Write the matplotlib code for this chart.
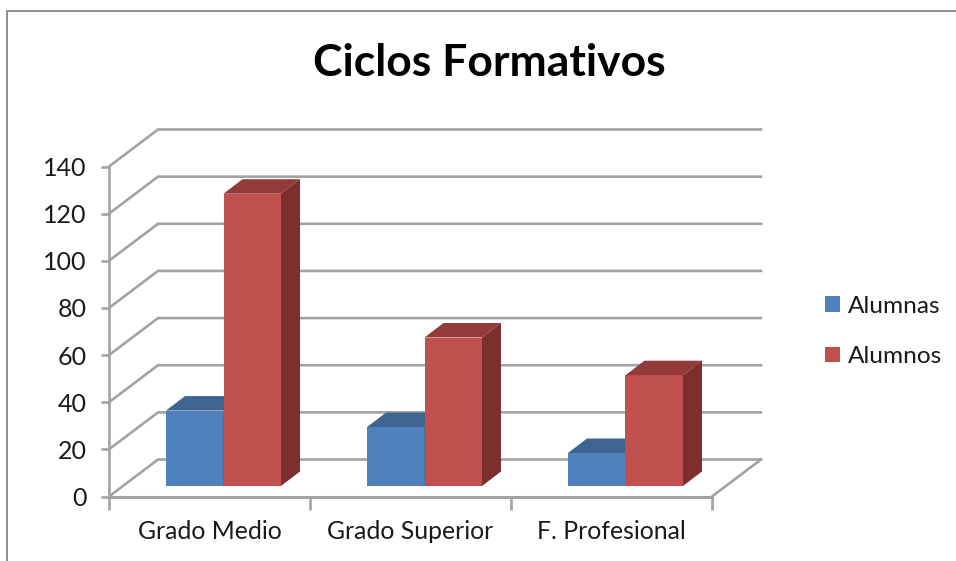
import matplotlib
matplotlib.use("Agg")
import matplotlib.pyplot as plt
from matplotlib.patches import Patch

plt.rcParams["font.family"] = ["Lato", "DejaVu Sans"]

categories = ["Grado Medio", "Grado Superior", "F. Profesional"]
alumnas = [32, 25, 14]
alumnos = [124, 63, 47]
y_ticks = [0, 20, 40, 60, 80, 100, 120, 140]

W, H = 956, 561
GRID = "#A3A3A3"
BLUE, BLUE_TOP = "#4F81BD", "#3E6590"
RED, RED_TOP, RED_SIDE = "#C0504D", "#933B39", "#7C2F2D"

fig = plt.figure(figsize=(W / 100, H / 100), dpi=100, facecolor="white")

# outer frame of the pasted chart (only top and left show)
fig.add_artist(plt.Line2D([7 / W, 7 / W, 1], [0, 1 - 10.5 / H, 1 - 10.5 / H],
                          color="#8C8C8C", lw=1.4))

# axes box = front plane of the 3D chart, in pixels
x0, x1, y0, y1 = 109, 712, 496.5, 166.5
ax = fig.add_axes([x0 / W, 1 - y0 / H, (x1 - x0) / W, (y0 - y1) / H])
ax.set_xlim(0, 3)
ax.set_ylim(0, 140)
ax.patch.set_alpha(0)
for s in ax.spines.values():
    s.set_visible(False)

# depth of the box, in data units
px_x = 3 / (x1 - x0)
px_y = 140 / (y0 - y1)
dx = 49 * px_x
dy = 37 * px_y

# walls
for t in y_ticks:
    ax.plot([0, dx, 3 + dx], [t, t + dy, t + dy], color=GRID, lw=1.9, clip_on=False,
            solid_joinstyle="miter", zorder=1)
ax.plot([3, 3 + dx], [0, dy], color=GRID, lw=1.9, clip_on=False, zorder=1)
ax.plot([0, 3], [0, 0], color=GRID, lw=2.2, clip_on=False, zorder=1)
ax.plot([0, 0], [0, 140], color=GRID, lw=1.9, clip_on=False, zorder=1)

# bars sit part way into the depth
bar_w = 57.5 * px_x
left = 43.5 * px_x
shift_x = 13.5 * px_x
shift_y = 10.5 * px_y
depth_x = 19 * px_x
depth_y = 14.5 * px_y


def draw_bar(x, v, front, top, side, z):
    ax.bar(x, v, bar_w, bottom=shift_y, align="edge", color=front, zorder=z, clip_on=False)
    b, t = shift_y, shift_y + v
    ax.fill([x, x + depth_x, x + bar_w + depth_x, x + bar_w],
            [t, t + depth_y, t + depth_y, t], color=top, lw=0, zorder=z, clip_on=False)
    ax.fill([x + bar_w, x + bar_w + depth_x, x + bar_w + depth_x, x + bar_w],
            [b, b + depth_y, t + depth_y, t], color=side, lw=0, zorder=z, clip_on=False)


for i in range(len(categories)):
    xa = i + shift_x + left
    draw_bar(xa, alumnas[i], BLUE, BLUE_TOP, BLUE_TOP, 2 + i)
    draw_bar(xa + bar_w, alumnos[i], RED, RED_TOP, RED_SIDE, 2.5 + i)

ax.set_yticks(y_ticks)
ax.set_xticks([0, 1, 2, 3])
ax.set_xticklabels([])
ax.tick_params(axis="both", color=GRID, width=1.9, length=6, labelsize=18, labelcolor="#1A1A1A", pad=10)
ax.tick_params(axis="x", length=9)
for i, c in enumerate(categories):
    ax.text(i + 0.5, -15, c, ha="center", va="center", fontsize=17.8, color="#1A1A1A")

fig.text(489 / W, 1 - 63 / H, "Ciclos Formativos", ha="center", va="center",
         fontsize=32, fontweight="bold", color="black")

handles = [Patch(facecolor=BLUE, label="Alumnas"), Patch(facecolor=RED, label="Alumnos")]
fig.legend(handles=handles, loc="center left", bbox_to_anchor=(803 / W, 1 - 331.5 / H),
           frameon=False, fontsize=17.6, labelcolor="#1A1A1A", handlelength=0.62, handleheight=0.62,
           handletextpad=0.3, labelspacing=1.2)

fig.savefig("out.png", dpi=100)
